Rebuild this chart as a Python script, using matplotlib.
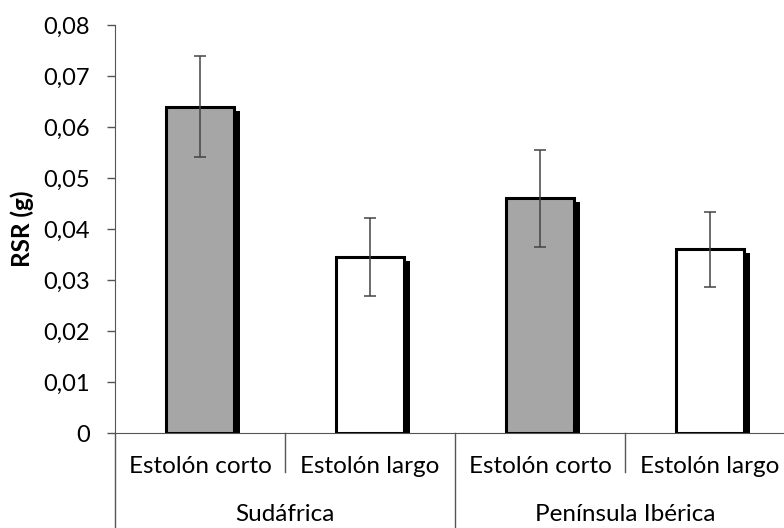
import matplotlib.pyplot as plt
import matplotlib.transforms as mtransforms
from matplotlib.ticker import FuncFormatter
import numpy as np

plt.rcParams['font.family'] = ['Lato', 'DejaVu Sans']

# datos
grupos = ["Sudáfrica", "Península Ibérica"]
estolon = ["Estolón corto", "Estolón largo", "Estolón corto", "Estolón largo"]
rsr = [0.064, 0.0345, 0.046, 0.036]
error = [0.0099, 0.0076, 0.0095, 0.0074]
colores = ["#a6a6a6", "#ffffff", "#a6a6a6", "#ffffff"]

fig = plt.figure(figsize=(7.84, 5.28), dpi=100)
# el grafico original queda cortado por la derecha
ax = fig.add_axes([115/784, 95/528, 680/784, 408/528])

x = np.arange(len(rsr))
ancho = 0.4

# sombra de las barras
sombra = ax.transData + mtransforms.ScaledTranslation(6/100, -4/100, fig.dpi_scale_trans)
ax.bar(x, rsr, width=ancho, color="black", transform=sombra, zorder=1)
ax.bar(x, rsr, width=ancho, color=colores, edgecolor="black", linewidth=2.2, zorder=2)
ax.errorbar(x, rsr, yerr=error, fmt="none", ecolor="#444444", elinewidth=1.1,
            capsize=4.5, capthick=1.1, zorder=3)

ax.set_xlim(-0.5, 3.5)
ax.set_ylim(0, 0.08)
ax.set_yticks(np.arange(0, 0.081, 0.01))
ax.yaxis.set_major_formatter(FuncFormatter(lambda v, p: "0" if v == 0 else f"{v:.2f}".replace(".", ",")))
ax.tick_params(axis="y", direction="out", length=6, width=1, color="#555555", labelsize=17, pad=12)
ax.set_xticks([])
ax.set_ylabel("RSR (g)", fontsize=17.5, fontweight="bold", labelpad=7)

for s in ["top", "right"]:
    ax.spines[s].set_visible(False)
ax.spines["left"].set_color("#555555")
ax.spines["bottom"].set_color("#555555")

# etiquetas jerarquicas del eje x
trans = mtransforms.blended_transform_factory(ax.transData, ax.transAxes)
for i, lab in enumerate(estolon):
    ax.text(i, -0.083, lab, transform=trans, ha="center", va="center", fontsize=17.5)
for j, g in enumerate(grupos):
    ax.text(2 * j + 0.5, -0.199, g, transform=trans, ha="center", va="center", fontsize=17.5)

for xb in [0.5, 2.5]:
    ax.plot([xb, xb], [0, -0.096], transform=trans, color="#555555", lw=1, clip_on=False)
for xb in [-0.5, 1.5, 3.5]:
    ax.plot([xb, xb], [0, -0.24], transform=trans, color="#555555", lw=1, clip_on=False)

fig.savefig("out.png", dpi=100)
